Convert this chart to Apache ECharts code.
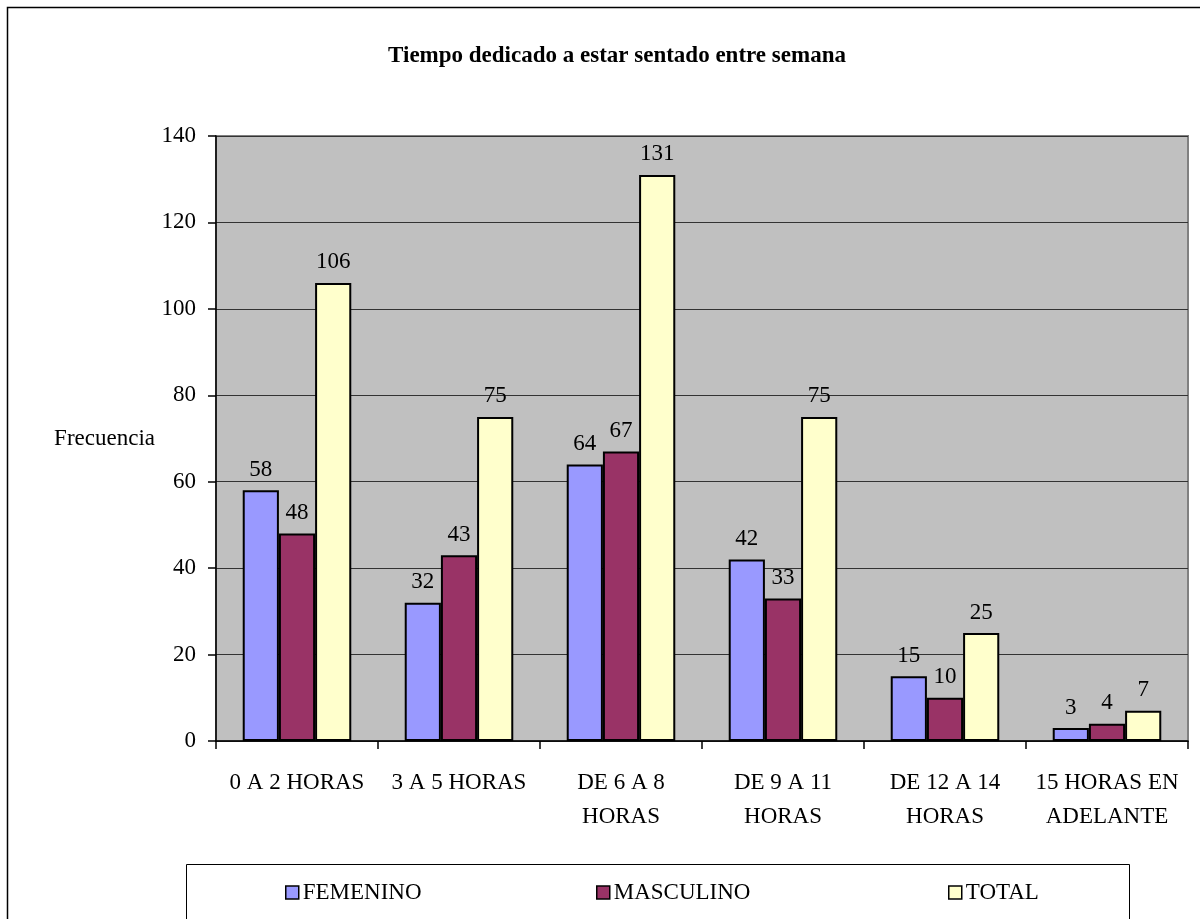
<!DOCTYPE html>
<html><head><meta charset="utf-8">
<script src="https://cdn.jsdelivr.net/npm/echarts@6/dist/echarts.min.js"></script>
<style>html,body{margin:0;padding:0;background:#fff}#c{width:1200px;height:919px}</style>
</head><body><div id="c"></div>
<script>
const categories = ['0 A 2 HORAS', '3 A 5 HORAS', 'DE 6 A 8\nHORAS', 'DE 9 A 11\nHORAS', 'DE 12 A 14\nHORAS', '15 HORAS EN\nADELANTE'];
const femenino = [58, 32, 64, 42, 15, 3];
const masculino = [48, 43, 67, 33, 10, 4];
const total = [106, 75, 131, 75, 25, 7];
const seriesNames = ['FEMENINO', 'MASCULINO', 'TOTAL'];
const colors = ['#9999FF', '#993366', '#FFFFCC'];
const yTicks = [0, 20, 40, 60, 80, 100, 120, 140];

const font = 'Liberation Serif';
const FS = 23;
const chart = echarts.init(document.getElementById('c'), null, {renderer: 'canvas'});
const mk = (name, data, i) => ({
  name, type: 'bar', data, barGap: '0%', barCategoryGap: '33%',
  itemStyle: {color: colors[i], borderColor: '#000', borderWidth: 2},
  label: {show: true, position: 'top', distance: 9, fontFamily: font, fontSize: FS, color: '#000'}
});
const legendPos = [280, 591, 943];
chart.setOption({
  animation: false,
  textStyle: {fontFamily: font},
  title: {text: 'Tiempo dedicado a estar sentado entre semana', left: 612, top: 40, textAlign: 'center',
    textStyle: {fontFamily: font, fontWeight: 'bold', fontSize: FS, color: '#000'}},
  graphic: [
    {type: 'rect', shape: {x: 7.5, y: 7.5, width: 1200, height: 1000}, style: {fill: 'none', stroke: '#000', lineWidth: 1.5}, silent: true},
    {type: 'rect', shape: {x: 186.5, y: 864.5, width: 943, height: 80}, style: {fill: 'none', stroke: '#000', lineWidth: 1}, silent: true}
  ],
  legend: seriesNames.map((n, i) => ({
    data: [n], left: legendPos[i], top: 876, itemWidth: 13, itemHeight: 13, itemGap: 5,
    icon: 'rect', textStyle: {fontFamily: font, fontSize: FS, color: '#000', padding: [0,0,0,-1]},
    itemStyle: {borderColor: '#000', borderWidth: 1.5}
  })),
  grid: {left: 216, right: 12, top: 136, bottom: 178, show: true, backgroundColor: '#C0C0C0', borderColor: '#808080', borderWidth: 2},
  xAxis: {
    type: 'category', data: categories,
    axisLine: {lineStyle: {color: '#000', width: 1.5}},
    axisTick: {show: true, length: 8, lineStyle: {color: '#000', width: 1.5}},
    axisLabel: {fontFamily: font, fontSize: FS, color: '#000', margin: 25, lineHeight: 34, interval: 0}
  },
  yAxis: {
    type: 'value', min: 0, max: 140, interval: 20,
    name: 'Frecuencia', nameLocation: 'middle', nameRotate: 0, nameGap: 61,
    nameTextStyle: {fontFamily: font, fontSize: FS, color: '#000'},
    axisLine: {show: true, lineStyle: {color: '#000', width: 1.5}},
    axisTick: {show: true, length: 8, lineStyle: {color: '#000', width: 1.5}},
    axisLabel: {fontFamily: font, fontSize: FS, color: '#000', margin: 20,
      formatter: v => yTicks.includes(v) ? String(v) : ''},
    splitLine: {lineStyle: {color: '#333', width: 1}}
  },
  series: [mk(seriesNames[0], femenino, 0), mk(seriesNames[1], masculino, 1), mk(seriesNames[2], total, 2)]
});
</script></body></html>
